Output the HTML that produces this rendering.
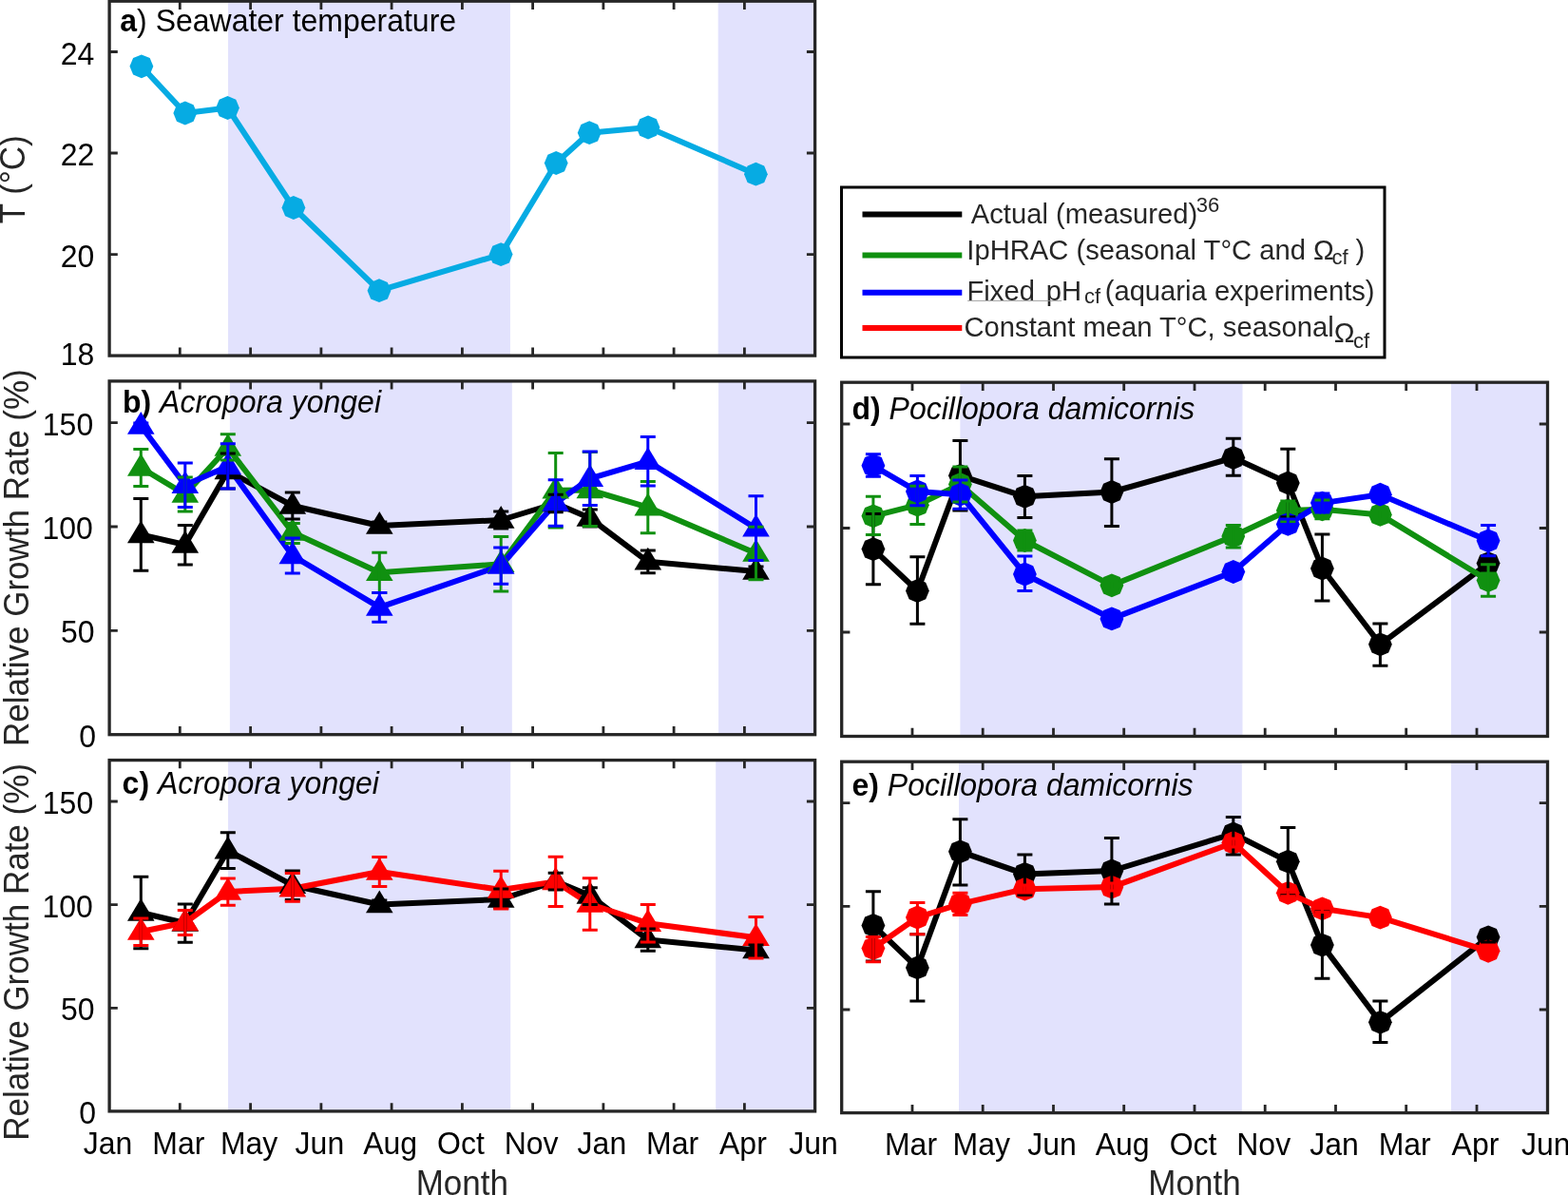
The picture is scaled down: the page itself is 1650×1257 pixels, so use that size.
<!DOCTYPE html>
<html><head><meta charset="utf-8"><title>Figure</title><style>html,body{margin:0;padding:0;background:#fff;}body{width:1650px;height:1257px;overflow:hidden;}</style></head><body>
<svg width="1650" height="1257" viewBox="0 0 1650 1257" style="display:block;font-family:'Liberation Sans',Arial,Helvetica,sans-serif">
<rect width="1650" height="1257" fill="#fff"/>
<rect x="240" y="1.2" width="296.9" height="372.9" fill="#E2E2FD"/>
<rect x="755.7" y="1.2" width="101.9" height="372.9" fill="#E2E2FD"/>
<text transform="translate(126.3 33.4) scale(1 1.0436)" font-size="32" fill="#000"><tspan font-weight="bold">a</tspan>) Seawater temperature</text>
<polyline points="148.9,69.8 194.8,119 239.5,113.5 308.9,218.5 399,305.7 527.1,267.6 585.2,171.5 620.2,139.7 682,134 795.4,183.2" stroke="#06ABE3" stroke-width="6" fill="none" stroke-linejoin="round"/>
<polygon points="148.9,57.4 157.7,61 161.3,69.8 157.7,78.6 148.9,82.2 140.1,78.6 136.5,69.8 140.1,61" fill="#06ABE3"/>
<polygon points="194.8,106.6 203.6,110.2 207.2,119 203.6,127.8 194.8,131.4 186,127.8 182.4,119 186,110.2" fill="#06ABE3"/>
<polygon points="239.5,101.1 248.3,104.7 251.9,113.5 248.3,122.3 239.5,125.9 230.7,122.3 227.1,113.5 230.7,104.7" fill="#06ABE3"/>
<polygon points="308.9,206.1 317.7,209.7 321.3,218.5 317.7,227.3 308.9,230.9 300.1,227.3 296.5,218.5 300.1,209.7" fill="#06ABE3"/>
<polygon points="399,293.3 407.8,296.9 411.4,305.7 407.8,314.5 399,318.1 390.2,314.5 386.6,305.7 390.2,296.9" fill="#06ABE3"/>
<polygon points="527.1,255.2 535.9,258.8 539.5,267.6 535.9,276.4 527.1,280 518.3,276.4 514.7,267.6 518.3,258.8" fill="#06ABE3"/>
<polygon points="585.2,159.1 594,162.7 597.6,171.5 594,180.3 585.2,183.9 576.4,180.3 572.8,171.5 576.4,162.7" fill="#06ABE3"/>
<polygon points="620.2,127.3 629,130.9 632.6,139.7 629,148.5 620.2,152.1 611.4,148.5 607.8,139.7 611.4,130.9" fill="#06ABE3"/>
<polygon points="682,121.6 690.8,125.2 694.4,134 690.8,142.8 682,146.4 673.2,142.8 669.6,134 673.2,125.2" fill="#06ABE3"/>
<polygon points="795.4,170.8 804.2,174.4 807.8,183.2 804.2,192 795.4,195.6 786.6,192 783,183.2 786.6,174.4" fill="#06ABE3"/>
<path d="M189.3 374.1V365.4M189.3 1.2V9.9M263.6 374.1V365.4M263.6 1.2V9.9M337.9 374.1V365.4M337.9 1.2V9.9M412.1 374.1V365.4M412.1 1.2V9.9M486.4 374.1V365.4M486.4 1.2V9.9M560.6 374.1V365.4M560.6 1.2V9.9M634.9 374.1V365.4M634.9 1.2V9.9M709.1 374.1V365.4M709.1 1.2V9.9M783.4 374.1V365.4M783.4 1.2V9.9M115.1 267.6H123.8M857.6 267.6H848.9M115.1 161H123.8M857.6 161H848.9M115.1 54.5H123.8M857.6 54.5H848.9" stroke="#262626" stroke-width="2.8" fill="none"/>
<rect x="115.1" y="1.2" width="742.5" height="372.9" stroke="#262626" stroke-width="3.3" fill="none"/>
<rect x="241.9" y="400.9" width="296.9" height="371.8" fill="#E2E2FD"/>
<rect x="756.1" y="400.9" width="101.5" height="371.8" fill="#E2E2FD"/>
<text transform="translate(129 433.7) scale(1 1.0436)" font-size="32" fill="#000"><tspan font-weight="bold">b)</tspan> <tspan font-style="italic">Acropora yongei</tspan></text>
<polyline points="148.3,562.4 194.8,573 239.8,495.5 307.8,532 399.3,553 527.2,547 584.7,529.5 620.8,545 681.8,590.8 795.5,601" stroke="#000000" stroke-width="6" fill="none" stroke-linejoin="round"/>
<polyline points="148.3,492 194.8,520 239.8,471 307.8,560 399.3,602.3 527.2,593.3 584.7,515.8 620.8,515.5 681.8,533.6 795.5,582" stroke="#109010" stroke-width="6" fill="none" stroke-linejoin="round"/>
<polyline points="148.3,448 194.8,510.2 239.8,490.4 307.8,584.5 399.3,638.9 527.2,595 584.7,529 620.8,503.3 681.8,485.3 795.5,555.7" stroke="#0000FF" stroke-width="6" fill="none" stroke-linejoin="round"/>
<path d="M148.3 547.4L162.6 571.2L134 571.2Z" fill="#000000"/>
<path d="M194.8 558L209.1 581.8L180.5 581.8Z" fill="#000000"/>
<path d="M239.8 480.5L254.1 504.3L225.5 504.3Z" fill="#000000"/>
<path d="M307.8 517L322.1 540.8L293.5 540.8Z" fill="#000000"/>
<path d="M399.3 538L413.6 561.8L385 561.8Z" fill="#000000"/>
<path d="M527.2 532L541.5 555.8L512.9 555.8Z" fill="#000000"/>
<path d="M584.7 514.5L599 538.3L570.4 538.3Z" fill="#000000"/>
<path d="M620.8 530L635.1 553.8L606.5 553.8Z" fill="#000000"/>
<path d="M681.8 575.8L696.1 599.6L667.5 599.6Z" fill="#000000"/>
<path d="M795.5 586L809.8 609.8L781.2 609.8Z" fill="#000000"/>
<path d="M148.3 477L162.6 500.8L134 500.8Z" fill="#109010"/>
<path d="M194.8 505L209.1 528.8L180.5 528.8Z" fill="#109010"/>
<path d="M239.8 456L254.1 479.8L225.5 479.8Z" fill="#109010"/>
<path d="M307.8 545L322.1 568.8L293.5 568.8Z" fill="#109010"/>
<path d="M399.3 587.3L413.6 611.1L385 611.1Z" fill="#109010"/>
<path d="M527.2 578.3L541.5 602.1L512.9 602.1Z" fill="#109010"/>
<path d="M584.7 500.8L599 524.6L570.4 524.6Z" fill="#109010"/>
<path d="M620.8 500.5L635.1 524.3L606.5 524.3Z" fill="#109010"/>
<path d="M681.8 518.6L696.1 542.4L667.5 542.4Z" fill="#109010"/>
<path d="M795.5 567L809.8 590.8L781.2 590.8Z" fill="#109010"/>
<path d="M148.3 433L162.6 456.8L134 456.8Z" fill="#0000FF"/>
<path d="M194.8 495.2L209.1 519L180.5 519Z" fill="#0000FF"/>
<path d="M239.8 475.4L254.1 499.2L225.5 499.2Z" fill="#0000FF"/>
<path d="M307.8 569.5L322.1 593.3L293.5 593.3Z" fill="#0000FF"/>
<path d="M399.3 623.9L413.6 647.7L385 647.7Z" fill="#0000FF"/>
<path d="M527.2 580L541.5 603.8L512.9 603.8Z" fill="#0000FF"/>
<path d="M584.7 514L599 537.8L570.4 537.8Z" fill="#0000FF"/>
<path d="M620.8 488.3L635.1 512.1L606.5 512.1Z" fill="#0000FF"/>
<path d="M681.8 470.3L696.1 494.1L667.5 494.1Z" fill="#0000FF"/>
<path d="M795.5 540.7L809.8 564.5L781.2 564.5Z" fill="#0000FF"/>
<path d="M148.3 524.5V600.3M140.3 524.5H156.3M140.3 600.3H156.3M194.8 552.5V594M186.8 552.5H202.8M186.8 594H202.8M239.8 477V514M231.8 477H247.8M231.8 514H247.8M307.8 518V546M299.8 518H315.8M299.8 546H315.8M399.3 549V557M391.3 549H407.3M391.3 557H407.3M527.2 538V556M519.2 538H535.2M519.2 556H535.2M584.7 520.2V538.8M576.7 520.2H592.7M576.7 538.8H592.7M620.8 536V554M612.8 536H628.8M612.8 554H628.8M681.8 578.9V602.8M673.8 578.9H689.8M673.8 602.8H689.8M795.5 596V606M787.5 596H803.5M787.5 606H803.5" stroke="#000000" stroke-width="3" fill="none"/>
<path d="M148.3 472.5V511.4M140.3 472.5H156.3M140.3 511.4H156.3M194.8 502V538M186.8 502H202.8M186.8 538H202.8M239.8 456.7V484M231.8 456.7H247.8M231.8 484H247.8M307.8 550.4V571.6M299.8 550.4H315.8M299.8 571.6H315.8M399.3 581.2V623.4M391.3 581.2H407.3M391.3 623.4H407.3M527.2 564.6V621.9M519.2 564.6H535.2M519.2 621.9H535.2M584.7 476.6V555M576.7 476.6H592.7M576.7 555H592.7M620.8 475.5V553.5M612.8 475.5H628.8M612.8 553.5H628.8M681.8 506.4V560.8M673.8 506.4H689.8M673.8 560.8H689.8M795.5 554.2V609.7M787.5 554.2H803.5M787.5 609.7H803.5" stroke="#109010" stroke-width="3" fill="none"/>
<path d="M148.3 445V452M140.3 445H156.3M140.3 452H156.3M194.8 487V533.4M186.8 487H202.8M186.8 533.4H202.8M239.8 466.7V514M231.8 466.7H247.8M231.8 514H247.8M307.8 565.9V603.1M299.8 565.9H315.8M299.8 603.1H315.8M399.3 623.4V654.3M391.3 623.4H407.3M391.3 654.3H407.3M527.2 576V614.2M519.2 576H535.2M519.2 614.2H535.2M584.7 504.7V553.3M576.7 504.7H592.7M576.7 553.3H592.7M620.8 475.1V531.4M612.8 475.1H628.8M612.8 531.4H628.8M681.8 459.6V511.1M673.8 459.6H689.8M673.8 511.1H689.8M795.5 521.8V589.6M787.5 521.8H803.5M787.5 589.6H803.5" stroke="#0000FF" stroke-width="3" fill="none"/>
<path d="M189.3 772.7V764M189.3 400.9V409.6M263.6 772.7V764M263.6 400.9V409.6M337.9 772.7V764M337.9 400.9V409.6M412.1 772.7V764M412.1 400.9V409.6M486.4 772.7V764M486.4 400.9V409.6M560.6 772.7V764M560.6 400.9V409.6M634.9 772.7V764M634.9 400.9V409.6M709.1 772.7V764M709.1 400.9V409.6M783.4 772.7V764M783.4 400.9V409.6M115.1 663.3H123.8M857.6 663.3H848.9M115.1 554H123.8M857.6 554H848.9M115.1 444.6H123.8M857.6 444.6H848.9" stroke="#262626" stroke-width="2.8" fill="none"/>
<rect x="115.1" y="400.9" width="742.5" height="371.8" stroke="#262626" stroke-width="3.3" fill="none"/>
<rect x="240" y="799.6" width="297.2" height="369.3" fill="#E2E2FD"/>
<rect x="753.2" y="799.6" width="104.4" height="369.3" fill="#E2E2FD"/>
<text transform="translate(128.6 834.5) scale(1 1.0436)" font-size="32" fill="#000"><tspan font-weight="bold">c)</tspan> <tspan font-style="italic">Acropora yongei</tspan></text>
<polyline points="148.3,960 194.8,971 239.8,894.6 307.8,931.2 399.3,951.5 527.2,946 584.7,927 620.8,942 681.8,988.5 795.5,999.5" stroke="#000000" stroke-width="6" fill="none" stroke-linejoin="round"/>
<polyline points="148.3,980 194.8,970.5 239.8,938 307.8,934.8 399.3,917 527.2,936 584.7,927.4 620.8,951 681.8,971.2 795.5,986.3" stroke="#FF0000" stroke-width="6" fill="none" stroke-linejoin="round"/>
<path d="M148.3 945L162.6 968.8L134 968.8Z" fill="#000000"/>
<path d="M194.8 956L209.1 979.8L180.5 979.8Z" fill="#000000"/>
<path d="M239.8 879.6L254.1 903.4L225.5 903.4Z" fill="#000000"/>
<path d="M307.8 916.2L322.1 940L293.5 940Z" fill="#000000"/>
<path d="M399.3 936.5L413.6 960.3L385 960.3Z" fill="#000000"/>
<path d="M527.2 931L541.5 954.8L512.9 954.8Z" fill="#000000"/>
<path d="M584.7 912L599 935.8L570.4 935.8Z" fill="#000000"/>
<path d="M620.8 927L635.1 950.8L606.5 950.8Z" fill="#000000"/>
<path d="M681.8 973.5L696.1 997.3L667.5 997.3Z" fill="#000000"/>
<path d="M795.5 984.5L809.8 1008.3L781.2 1008.3Z" fill="#000000"/>
<path d="M148.3 965L162.6 988.8L134 988.8Z" fill="#FF0000"/>
<path d="M194.8 955.5L209.1 979.3L180.5 979.3Z" fill="#FF0000"/>
<path d="M239.8 923L254.1 946.8L225.5 946.8Z" fill="#FF0000"/>
<path d="M307.8 919.8L322.1 943.6L293.5 943.6Z" fill="#FF0000"/>
<path d="M399.3 902L413.6 925.8L385 925.8Z" fill="#FF0000"/>
<path d="M527.2 921L541.5 944.8L512.9 944.8Z" fill="#FF0000"/>
<path d="M584.7 912.4L599 936.2L570.4 936.2Z" fill="#FF0000"/>
<path d="M620.8 936L635.1 959.8L606.5 959.8Z" fill="#FF0000"/>
<path d="M681.8 956.2L696.1 980L667.5 980Z" fill="#FF0000"/>
<path d="M795.5 971.3L809.8 995.1L781.2 995.1Z" fill="#FF0000"/>
<path d="M148.3 922.3V997.8M140.3 922.3H156.3M140.3 997.8H156.3M194.8 950.9V991.2M186.8 950.9H202.8M186.8 991.2H202.8M239.8 875.8V913.4M231.8 875.8H247.8M231.8 913.4H247.8M307.8 915.9V946.5M299.8 915.9H315.8M299.8 946.5H315.8M399.3 947V956M391.3 947H407.3M391.3 956H407.3M527.2 935V955M519.2 935H535.2M519.2 955H535.2M584.7 918.3V935.9M576.7 918.3H592.7M576.7 935.9H592.7M620.8 933.8V951.4M612.8 933.8H628.8M612.8 951.4H628.8M681.8 976.9V1000.2M673.8 976.9H689.8M673.8 1000.2H689.8M795.5 994V1005M787.5 994H803.5M787.5 1005H803.5" stroke="#000000" stroke-width="3" fill="none"/>
<path d="M148.3 966V994.5M140.3 966H156.3M140.3 994.5H156.3M194.8 957.6V983.4M186.8 957.6H202.8M186.8 983.4H202.8M239.8 924.1V952.2M231.8 924.1H247.8M231.8 952.2H247.8M307.8 918.6V948.3M299.8 918.6H315.8M299.8 948.3H315.8M399.3 901.4V932.4M391.3 901.4H407.3M391.3 932.4H407.3M527.2 916.2V956.1M519.2 916.2H535.2M519.2 956.1H535.2M584.7 901.3V953.5M576.7 901.3H592.7M576.7 953.5H592.7M620.8 923.8V978.3M612.8 923.8H628.8M612.8 978.3H628.8M681.8 951.4V991.1M673.8 951.4H689.8M673.8 991.1H689.8M795.5 964.6V1008M787.5 964.6H803.5M787.5 1008H803.5" stroke="#FF0000" stroke-width="3" fill="none"/>
<path d="M189.3 1168.9V1160.2M189.3 799.6V808.3M263.6 1168.9V1160.2M263.6 799.6V808.3M337.9 1168.9V1160.2M337.9 799.6V808.3M412.1 1168.9V1160.2M412.1 799.6V808.3M486.4 1168.9V1160.2M486.4 799.6V808.3M560.6 1168.9V1160.2M560.6 799.6V808.3M634.9 1168.9V1160.2M634.9 799.6V808.3M709.1 1168.9V1160.2M709.1 799.6V808.3M783.4 1168.9V1160.2M783.4 799.6V808.3M115.1 1060.3H123.8M857.6 1060.3H848.9M115.1 951.7H123.8M857.6 951.7H848.9M115.1 843H123.8M857.6 843H848.9" stroke="#262626" stroke-width="2.8" fill="none"/>
<rect x="115.1" y="799.6" width="742.5" height="369.3" stroke="#262626" stroke-width="3.3" fill="none"/>
<rect x="1010.4" y="402.2" width="297.1" height="372.3" fill="#E2E2FD"/>
<rect x="1527" y="402.2" width="101.5" height="372.3" fill="#E2E2FD"/>
<text transform="translate(896.5 440.7) scale(1 1.0436)" font-size="32" fill="#000"><tspan font-weight="bold">d)</tspan> <tspan font-style="italic">Pocillopora damicornis</tspan></text>
<polyline points="918.9,577.6 965.4,621.5 1010.4,500.3 1078.4,522.3 1169.9,517.5 1297.8,481.5 1355.3,508 1391.4,598 1452.4,677.8 1566.1,592.6" stroke="#000000" stroke-width="6" fill="none" stroke-linejoin="round"/>
<polyline points="918.9,542.8 965.4,531.2 1010.4,509.5 1078.4,568.5 1169.9,615.8 1297.8,564 1355.3,537 1391.4,535.8 1452.4,541.4 1566.1,610.5" stroke="#109010" stroke-width="6" fill="none" stroke-linejoin="round"/>
<polyline points="918.9,489.8 965.4,517 1010.4,520.2 1078.4,604 1169.9,650.9 1297.8,601.5 1355.3,551.4 1391.4,529.1 1452.4,520.2 1566.1,568.8" stroke="#0000FF" stroke-width="6" fill="none" stroke-linejoin="round"/>
<polygon points="918.9,565.2 927.7,568.8 931.3,577.6 927.7,586.4 918.9,590 910.1,586.4 906.5,577.6 910.1,568.8" fill="#000000"/>
<polygon points="965.4,609.1 974.2,612.7 977.8,621.5 974.2,630.3 965.4,633.9 956.6,630.3 953,621.5 956.6,612.7" fill="#000000"/>
<polygon points="1010.4,487.9 1019.2,491.5 1022.8,500.3 1019.2,509.1 1010.4,512.7 1001.6,509.1 998,500.3 1001.6,491.5" fill="#000000"/>
<polygon points="1078.4,509.9 1087.2,513.5 1090.8,522.3 1087.2,531.1 1078.4,534.7 1069.6,531.1 1066,522.3 1069.6,513.5" fill="#000000"/>
<polygon points="1169.9,505.1 1178.7,508.7 1182.3,517.5 1178.7,526.3 1169.9,529.9 1161.1,526.3 1157.5,517.5 1161.1,508.7" fill="#000000"/>
<polygon points="1297.8,469.1 1306.6,472.7 1310.2,481.5 1306.6,490.3 1297.8,493.9 1289,490.3 1285.4,481.5 1289,472.7" fill="#000000"/>
<polygon points="1355.3,495.6 1364.1,499.2 1367.7,508 1364.1,516.8 1355.3,520.4 1346.5,516.8 1342.9,508 1346.5,499.2" fill="#000000"/>
<polygon points="1391.4,585.6 1400.2,589.2 1403.8,598 1400.2,606.8 1391.4,610.4 1382.6,606.8 1379,598 1382.6,589.2" fill="#000000"/>
<polygon points="1452.4,665.4 1461.2,669 1464.8,677.8 1461.2,686.6 1452.4,690.2 1443.6,686.6 1440,677.8 1443.6,669" fill="#000000"/>
<polygon points="1566.1,580.2 1574.9,583.8 1578.5,592.6 1574.9,601.4 1566.1,605 1557.3,601.4 1553.7,592.6 1557.3,583.8" fill="#000000"/>
<polygon points="918.9,530.4 927.7,534 931.3,542.8 927.7,551.6 918.9,555.2 910.1,551.6 906.5,542.8 910.1,534" fill="#109010"/>
<polygon points="965.4,518.8 974.2,522.4 977.8,531.2 974.2,540 965.4,543.6 956.6,540 953,531.2 956.6,522.4" fill="#109010"/>
<polygon points="1010.4,497.1 1019.2,500.7 1022.8,509.5 1019.2,518.3 1010.4,521.9 1001.6,518.3 998,509.5 1001.6,500.7" fill="#109010"/>
<polygon points="1078.4,556.1 1087.2,559.7 1090.8,568.5 1087.2,577.3 1078.4,580.9 1069.6,577.3 1066,568.5 1069.6,559.7" fill="#109010"/>
<polygon points="1169.9,603.4 1178.7,607 1182.3,615.8 1178.7,624.6 1169.9,628.2 1161.1,624.6 1157.5,615.8 1161.1,607" fill="#109010"/>
<polygon points="1297.8,551.6 1306.6,555.2 1310.2,564 1306.6,572.8 1297.8,576.4 1289,572.8 1285.4,564 1289,555.2" fill="#109010"/>
<polygon points="1355.3,524.6 1364.1,528.2 1367.7,537 1364.1,545.8 1355.3,549.4 1346.5,545.8 1342.9,537 1346.5,528.2" fill="#109010"/>
<polygon points="1391.4,523.4 1400.2,527 1403.8,535.8 1400.2,544.6 1391.4,548.2 1382.6,544.6 1379,535.8 1382.6,527" fill="#109010"/>
<polygon points="1452.4,529 1461.2,532.6 1464.8,541.4 1461.2,550.2 1452.4,553.8 1443.6,550.2 1440,541.4 1443.6,532.6" fill="#109010"/>
<polygon points="1566.1,598.1 1574.9,601.7 1578.5,610.5 1574.9,619.3 1566.1,622.9 1557.3,619.3 1553.7,610.5 1557.3,601.7" fill="#109010"/>
<polygon points="918.9,477.4 927.7,481 931.3,489.8 927.7,498.6 918.9,502.2 910.1,498.6 906.5,489.8 910.1,481" fill="#0000FF"/>
<polygon points="965.4,504.6 974.2,508.2 977.8,517 974.2,525.8 965.4,529.4 956.6,525.8 953,517 956.6,508.2" fill="#0000FF"/>
<polygon points="1010.4,507.8 1019.2,511.4 1022.8,520.2 1019.2,529 1010.4,532.6 1001.6,529 998,520.2 1001.6,511.4" fill="#0000FF"/>
<polygon points="1078.4,591.6 1087.2,595.2 1090.8,604 1087.2,612.8 1078.4,616.4 1069.6,612.8 1066,604 1069.6,595.2" fill="#0000FF"/>
<polygon points="1169.9,638.5 1178.7,642.1 1182.3,650.9 1178.7,659.7 1169.9,663.3 1161.1,659.7 1157.5,650.9 1161.1,642.1" fill="#0000FF"/>
<polygon points="1297.8,589.1 1306.6,592.7 1310.2,601.5 1306.6,610.3 1297.8,613.9 1289,610.3 1285.4,601.5 1289,592.7" fill="#0000FF"/>
<polygon points="1355.3,539 1364.1,542.6 1367.7,551.4 1364.1,560.2 1355.3,563.8 1346.5,560.2 1342.9,551.4 1346.5,542.6" fill="#0000FF"/>
<polygon points="1391.4,516.7 1400.2,520.3 1403.8,529.1 1400.2,537.9 1391.4,541.5 1382.6,537.9 1379,529.1 1382.6,520.3" fill="#0000FF"/>
<polygon points="1452.4,507.8 1461.2,511.4 1464.8,520.2 1461.2,529 1452.4,532.6 1443.6,529 1440,520.2 1443.6,511.4" fill="#0000FF"/>
<polygon points="1566.1,556.4 1574.9,560 1578.5,568.8 1574.9,577.6 1566.1,581.2 1557.3,577.6 1553.7,568.8 1557.3,560" fill="#0000FF"/>
<path d="M918.9 540.4V614.8M910.9 540.4H926.9M910.9 614.8H926.9M965.4 585.8V656.2M957.4 585.8H973.4M957.4 656.2H973.4M1010.4 463.6V537M1002.4 463.6H1018.4M1002.4 537H1018.4M1078.4 500.6V544.5M1070.4 500.6H1086.4M1070.4 544.5H1086.4M1169.9 482.8V553.6M1161.9 482.8H1177.9M1161.9 553.6H1177.9M1297.8 461.2V500.2M1289.8 461.2H1305.8M1289.8 500.2H1305.8M1355.3 472.3V543.7M1347.3 472.3H1363.3M1347.3 543.7H1363.3M1391.4 562.1V632.1M1383.4 562.1H1399.4M1383.4 632.1H1399.4M1452.4 656.1V700.2M1444.4 656.1H1460.4M1444.4 700.2H1460.4M1566.1 585V600M1558.1 585H1574.1M1558.1 600H1574.1" stroke="#000000" stroke-width="3" fill="none"/>
<path d="M918.9 522.3V562.5M910.9 522.3H926.9M910.9 562.5H926.9M965.4 511.2V551.5M957.4 511.2H973.4M957.4 551.5H973.4M1010.4 491.1V528M1002.4 491.1H1018.4M1002.4 528H1018.4M1078.4 558V579M1070.4 558H1086.4M1070.4 579H1086.4M1169.9 611V620M1161.9 611H1177.9M1161.9 620H1177.9M1297.8 552.5V575.9M1289.8 552.5H1305.8M1289.8 575.9H1305.8M1355.3 527V548.5M1347.3 527H1363.3M1347.3 548.5H1363.3M1391.4 526V545.8M1383.4 526H1399.4M1383.4 545.8H1399.4M1452.4 537V546M1444.4 537H1460.4M1444.4 546H1460.4M1566.1 593.7V627.2M1558.1 593.7H1574.1M1558.1 627.2H1574.1" stroke="#109010" stroke-width="3" fill="none"/>
<path d="M918.9 477.7V501.2M910.9 477.7H926.9M910.9 501.2H926.9M965.4 500.6V531.8M957.4 500.6H973.4M957.4 531.8H973.4M1010.4 505.1V535.3M1002.4 505.1H1018.4M1002.4 535.3H1018.4M1078.4 585.1V621.4M1070.4 585.1H1086.4M1070.4 621.4H1086.4M1169.9 646V655M1161.9 646H1177.9M1161.9 655H1177.9M1297.8 596V606M1289.8 596H1305.8M1289.8 606H1305.8M1355.3 546V556M1347.3 546H1363.3M1347.3 556H1363.3M1391.4 519.1V539M1383.4 519.1H1399.4M1383.4 539H1399.4M1452.4 516V524M1444.4 516H1460.4M1444.4 524H1460.4M1566.1 552.5V584.8M1558.1 552.5H1574.1M1558.1 584.8H1574.1" stroke="#0000FF" stroke-width="3" fill="none"/>
<path d="M960 774.5V765.8M960 402.2V410.9M1034.2 774.5V765.8M1034.2 402.2V410.9M1108.5 774.5V765.8M1108.5 402.2V410.9M1182.7 774.5V765.8M1182.7 402.2V410.9M1257 774.5V765.8M1257 402.2V410.9M1331.2 774.5V765.8M1331.2 402.2V410.9M1405.5 774.5V765.8M1405.5 402.2V410.9M1479.7 774.5V765.8M1479.7 402.2V410.9M1554 774.5V765.8M1554 402.2V410.9M885.7 665H894.4M1628.5 665H1619.8M885.7 555.5H894.4M1628.5 555.5H1619.8M885.7 446H894.4M1628.5 446H1619.8" stroke="#262626" stroke-width="2.8" fill="none"/>
<rect x="885.7" y="402.2" width="742.8" height="372.3" stroke="#262626" stroke-width="3.3" fill="none"/>
<rect x="1009" y="801.2" width="297.8" height="369.4" fill="#E2E2FD"/>
<rect x="1527" y="801.2" width="101.5" height="369.4" fill="#E2E2FD"/>
<text transform="translate(896.5 836.8) scale(1 1.0436)" font-size="32" fill="#000"><tspan font-weight="bold">e)</tspan> <tspan font-style="italic">Pocillopora damicornis</tspan></text>
<polyline points="918.9,973.4 965.4,1017.9 1010.4,895.8 1078.4,919.4 1169.9,916 1297.8,877 1355.3,906.2 1391.4,994.1 1452.4,1075.3 1566.1,985.8" stroke="#000000" stroke-width="6" fill="none" stroke-linejoin="round"/>
<polyline points="918.9,997.5 965.4,965 1010.4,950.8 1078.4,935.2 1169.9,933.1 1297.8,886.5 1355.3,939.3 1391.4,955.8 1452.4,965.1 1566.1,1000.3" stroke="#FF0000" stroke-width="6" fill="none" stroke-linejoin="round"/>
<polygon points="918.9,961 927.7,964.6 931.3,973.4 927.7,982.2 918.9,985.8 910.1,982.2 906.5,973.4 910.1,964.6" fill="#000000"/>
<polygon points="965.4,1005.5 974.2,1009.1 977.8,1017.9 974.2,1026.7 965.4,1030.3 956.6,1026.7 953,1017.9 956.6,1009.1" fill="#000000"/>
<polygon points="1010.4,883.4 1019.2,887 1022.8,895.8 1019.2,904.6 1010.4,908.2 1001.6,904.6 998,895.8 1001.6,887" fill="#000000"/>
<polygon points="1078.4,907 1087.2,910.6 1090.8,919.4 1087.2,928.2 1078.4,931.8 1069.6,928.2 1066,919.4 1069.6,910.6" fill="#000000"/>
<polygon points="1169.9,903.6 1178.7,907.2 1182.3,916 1178.7,924.8 1169.9,928.4 1161.1,924.8 1157.5,916 1161.1,907.2" fill="#000000"/>
<polygon points="1297.8,864.6 1306.6,868.2 1310.2,877 1306.6,885.8 1297.8,889.4 1289,885.8 1285.4,877 1289,868.2" fill="#000000"/>
<polygon points="1355.3,893.8 1364.1,897.4 1367.7,906.2 1364.1,915 1355.3,918.6 1346.5,915 1342.9,906.2 1346.5,897.4" fill="#000000"/>
<polygon points="1391.4,981.7 1400.2,985.3 1403.8,994.1 1400.2,1002.9 1391.4,1006.5 1382.6,1002.9 1379,994.1 1382.6,985.3" fill="#000000"/>
<polygon points="1452.4,1062.9 1461.2,1066.5 1464.8,1075.3 1461.2,1084.1 1452.4,1087.7 1443.6,1084.1 1440,1075.3 1443.6,1066.5" fill="#000000"/>
<polygon points="1566.1,973.4 1574.9,977 1578.5,985.8 1574.9,994.6 1566.1,998.2 1557.3,994.6 1553.7,985.8 1557.3,977" fill="#000000"/>
<polygon points="918.9,985.1 927.7,988.7 931.3,997.5 927.7,1006.3 918.9,1009.9 910.1,1006.3 906.5,997.5 910.1,988.7" fill="#FF0000"/>
<polygon points="965.4,952.6 974.2,956.2 977.8,965 974.2,973.8 965.4,977.4 956.6,973.8 953,965 956.6,956.2" fill="#FF0000"/>
<polygon points="1010.4,938.4 1019.2,942 1022.8,950.8 1019.2,959.6 1010.4,963.2 1001.6,959.6 998,950.8 1001.6,942" fill="#FF0000"/>
<polygon points="1078.4,922.8 1087.2,926.4 1090.8,935.2 1087.2,944 1078.4,947.6 1069.6,944 1066,935.2 1069.6,926.4" fill="#FF0000"/>
<polygon points="1169.9,920.7 1178.7,924.3 1182.3,933.1 1178.7,941.9 1169.9,945.5 1161.1,941.9 1157.5,933.1 1161.1,924.3" fill="#FF0000"/>
<polygon points="1297.8,874.1 1306.6,877.7 1310.2,886.5 1306.6,895.3 1297.8,898.9 1289,895.3 1285.4,886.5 1289,877.7" fill="#FF0000"/>
<polygon points="1355.3,926.9 1364.1,930.5 1367.7,939.3 1364.1,948.1 1355.3,951.7 1346.5,948.1 1342.9,939.3 1346.5,930.5" fill="#FF0000"/>
<polygon points="1391.4,943.4 1400.2,947 1403.8,955.8 1400.2,964.6 1391.4,968.2 1382.6,964.6 1379,955.8 1382.6,947" fill="#FF0000"/>
<polygon points="1452.4,952.7 1461.2,956.3 1464.8,965.1 1461.2,973.9 1452.4,977.5 1443.6,973.9 1440,965.1 1443.6,956.3" fill="#FF0000"/>
<polygon points="1566.1,987.9 1574.9,991.5 1578.5,1000.3 1574.9,1009.1 1566.1,1012.7 1557.3,1009.1 1553.7,1000.3 1557.3,991.5" fill="#FF0000"/>
<path d="M918.9 937.8V1011M910.9 937.8H926.9M910.9 1011H926.9M965.4 982.7V1053.1M957.4 982.7H973.4M957.4 1053.1H973.4M1010.4 861.7V931M1002.4 861.7H1018.4M1002.4 931H1018.4M1078.4 899V941.4M1070.4 899H1086.4M1070.4 941.4H1086.4M1169.9 881.4V951.1M1161.9 881.4H1177.9M1161.9 951.1H1177.9M1297.8 859.6V898.9M1289.8 859.6H1305.8M1289.8 898.9H1305.8M1355.3 870.6V941.8M1347.3 870.6H1363.3M1347.3 941.8H1363.3M1391.4 959V1029.2M1383.4 959H1399.4M1383.4 1029.2H1399.4M1452.4 1053V1096.5M1444.4 1053H1460.4M1444.4 1096.5H1460.4M1566.1 980V991M1558.1 980H1574.1M1558.1 991H1574.1" stroke="#000000" stroke-width="3" fill="none"/>
<path d="M918.9 985.4V1011.7M910.9 985.4H926.9M910.9 1011.7H926.9M965.4 949.6V982.7M957.4 949.6H973.4M957.4 982.7H973.4M1010.4 939.3V962.5M1002.4 939.3H1018.4M1002.4 962.5H1018.4M1078.4 931V939M1070.4 931H1086.4M1070.4 939H1086.4M1169.9 929V937M1161.9 929H1177.9M1161.9 937H1177.9M1297.8 882V891M1289.8 882H1305.8M1289.8 891H1305.8M1355.3 935.8V942.8M1347.3 935.8H1363.3M1347.3 942.8H1363.3M1391.4 952V959.5M1383.4 952H1399.4M1383.4 959.5H1399.4M1452.4 961V969M1444.4 961H1460.4M1444.4 969H1460.4M1566.1 996V1004M1558.1 996H1574.1M1558.1 1004H1574.1" stroke="#FF0000" stroke-width="3" fill="none"/>
<path d="M960 1170.6V1161.9M960 801.2V809.9M1034.2 1170.6V1161.9M1034.2 801.2V809.9M1108.5 1170.6V1161.9M1108.5 801.2V809.9M1182.7 1170.6V1161.9M1182.7 801.2V809.9M1257 1170.6V1161.9M1257 801.2V809.9M1331.2 1170.6V1161.9M1331.2 801.2V809.9M1405.5 1170.6V1161.9M1405.5 801.2V809.9M1479.7 1170.6V1161.9M1479.7 801.2V809.9M1554 1170.6V1161.9M1554 801.2V809.9M885.7 1062H894.4M1628.5 1062H1619.8M885.7 953.3H894.4M1628.5 953.3H1619.8M885.7 844.7H894.4M1628.5 844.7H1619.8" stroke="#262626" stroke-width="2.8" fill="none"/>
<rect x="885.7" y="801.2" width="742.8" height="369.4" stroke="#262626" stroke-width="3.3" fill="none"/>
<text transform="translate(99.3 384.1) scale(1 1.0436)" font-size="32" text-anchor="end" fill="#000">18</text>
<text transform="translate(99.3 280.7) scale(1 1.0436)" font-size="32" text-anchor="end" fill="#000">20</text>
<text transform="translate(99.3 174.1) scale(1 1.0436)" font-size="32" text-anchor="end" fill="#000">22</text>
<text transform="translate(99.3 67.6) scale(1 1.0436)" font-size="32" text-anchor="end" fill="#000">24</text>
<text transform="translate(101 786.2) scale(1 1.0436)" font-size="32" text-anchor="end" fill="#000">0</text>
<text transform="translate(99.5 676.4) scale(1 1.0436)" font-size="32" text-anchor="end" fill="#000">50</text>
<text transform="translate(97.8 567.1) scale(1 1.0436)" font-size="32" text-anchor="end" fill="#000">100</text>
<text transform="translate(98.2 457.7) scale(1 1.0436)" font-size="32" text-anchor="end" fill="#000">150</text>
<text transform="translate(101 1182.4) scale(1 1.0436)" font-size="32" text-anchor="end" fill="#000">0</text>
<text transform="translate(99.5 1073.4) scale(1 1.0436)" font-size="32" text-anchor="end" fill="#000">50</text>
<text transform="translate(97.8 964.8) scale(1 1.0436)" font-size="32" text-anchor="end" fill="#000">100</text>
<text transform="translate(98.2 856.1) scale(1 1.0436)" font-size="32" text-anchor="end" fill="#000">150</text>
<text transform="translate(113.6 1213.5) scale(1 1.0436)" font-size="32" text-anchor="middle" fill="#000">Jan</text>
<text transform="translate(187.8 1213.5) scale(1 1.0436)" font-size="32" text-anchor="middle" fill="#000">Mar</text>
<text transform="translate(262.1 1213.5) scale(1 1.0436)" font-size="32" text-anchor="middle" fill="#000">May</text>
<text transform="translate(336.4 1213.5) scale(1 1.0436)" font-size="32" text-anchor="middle" fill="#000">Jun</text>
<text transform="translate(410.6 1213.5) scale(1 1.0436)" font-size="32" text-anchor="middle" fill="#000">Aug</text>
<text transform="translate(484.9 1213.5) scale(1 1.0436)" font-size="32" text-anchor="middle" fill="#000">Oct</text>
<text transform="translate(559.1 1213.5) scale(1 1.0436)" font-size="32" text-anchor="middle" fill="#000">Nov</text>
<text transform="translate(633.4 1213.5) scale(1 1.0436)" font-size="32" text-anchor="middle" fill="#000">Jan</text>
<text transform="translate(707.6 1213.5) scale(1 1.0436)" font-size="32" text-anchor="middle" fill="#000">Mar</text>
<text transform="translate(781.9 1213.5) scale(1 1.0436)" font-size="32" text-anchor="middle" fill="#000">Apr</text>
<text transform="translate(856.1 1213.5) scale(1 1.0436)" font-size="32" text-anchor="middle" fill="#000">Jun</text>
<text transform="translate(958.5 1215.3) scale(1 1.0436)" font-size="32" text-anchor="middle" fill="#000">Mar</text>
<text transform="translate(1032.7 1215.3) scale(1 1.0436)" font-size="32" text-anchor="middle" fill="#000">May</text>
<text transform="translate(1107 1215.3) scale(1 1.0436)" font-size="32" text-anchor="middle" fill="#000">Jun</text>
<text transform="translate(1181.2 1215.3) scale(1 1.0436)" font-size="32" text-anchor="middle" fill="#000">Aug</text>
<text transform="translate(1255.5 1215.3) scale(1 1.0436)" font-size="32" text-anchor="middle" fill="#000">Oct</text>
<text transform="translate(1329.7 1215.3) scale(1 1.0436)" font-size="32" text-anchor="middle" fill="#000">Nov</text>
<text transform="translate(1404 1215.3) scale(1 1.0436)" font-size="32" text-anchor="middle" fill="#000">Jan</text>
<text transform="translate(1478.2 1215.3) scale(1 1.0436)" font-size="32" text-anchor="middle" fill="#000">Mar</text>
<text transform="translate(1552.5 1215.3) scale(1 1.0436)" font-size="32" text-anchor="middle" fill="#000">Apr</text>
<text transform="translate(1626.7 1215.3) scale(1 1.0436)" font-size="32" text-anchor="middle" fill="#000">Jun</text>
<text transform="translate(486.3 1256.5) scale(1 1.0436)" font-size="35" text-anchor="middle" fill="#262626">Month</text>
<text transform="translate(1257 1256.5) scale(1 1.0436)" font-size="35" text-anchor="middle" fill="#262626">Month</text>
<text transform="translate(25.8 188.8) rotate(-90) scale(1 1.0436)" font-size="35" text-anchor="middle" fill="#262626">T (°C)</text>
<text transform="translate(29.7 586.6) rotate(-90) scale(1 1.0436)" font-size="35" text-anchor="middle" fill="#262626">Relative Growth Rate (%)</text>
<text transform="translate(29.7 1001.4) rotate(-90) scale(1 1.0436)" font-size="35" text-anchor="middle" fill="#262626">Relative Growth Rate (%)</text>
<rect x="885.5" y="197" width="571.5" height="179" fill="#fff" stroke="#000" stroke-width="3"/>
<path d="M907.5 225.5H1012.3" stroke="#000000" stroke-width="6"/>
<path d="M907.5 268.5H1012.3" stroke="#109010" stroke-width="6"/>
<path d="M907.5 307.8H1012.3" stroke="#0000FF" stroke-width="6"/>
<path d="M907.5 344.9H1012.3" stroke="#FF0000" stroke-width="6"/>
<text x="1021.8" y="235.1" font-size="29.2" fill="#262626">Actual (measured)</text>
<text x="1258.7" y="222.6" font-size="22" fill="#262626">36</text>
<text x="1017.3" y="272.7" font-size="29.2" fill="#262626">IpHRAC (seasonal T°C and Ω</text>
<text x="1401.5" y="277.8" font-size="22" fill="#262626">cf</text>
<text x="1426.6" y="272.7" font-size="29.2" fill="#262626">)</text>
<text x="1017.5" y="315.9" font-size="29.2" fill="#262626">Fixed</text>
<text x="1100.8" y="315.9" font-size="29.2" fill="#262626">pH</text>
<text x="1141.1" y="318.5" font-size="22" fill="#262626">cf</text>
<text x="1446.6" y="315.9" font-size="29.2" text-anchor="end" fill="#262626">(aquaria experiments)</text>
<path d="M1018.2 316.4H1117.2" stroke="#999" stroke-width="0.9"/>
<text x="1014.5" y="353.6" font-size="29.2" fill="#262626">Constant mean T°C, seasonal</text>
<text x="1403.7" y="360" font-size="29.2" fill="#262626">Ω</text>
<text x="1424.1" y="365.7" font-size="22" fill="#262626">cf</text>
</svg>
</body></html>
